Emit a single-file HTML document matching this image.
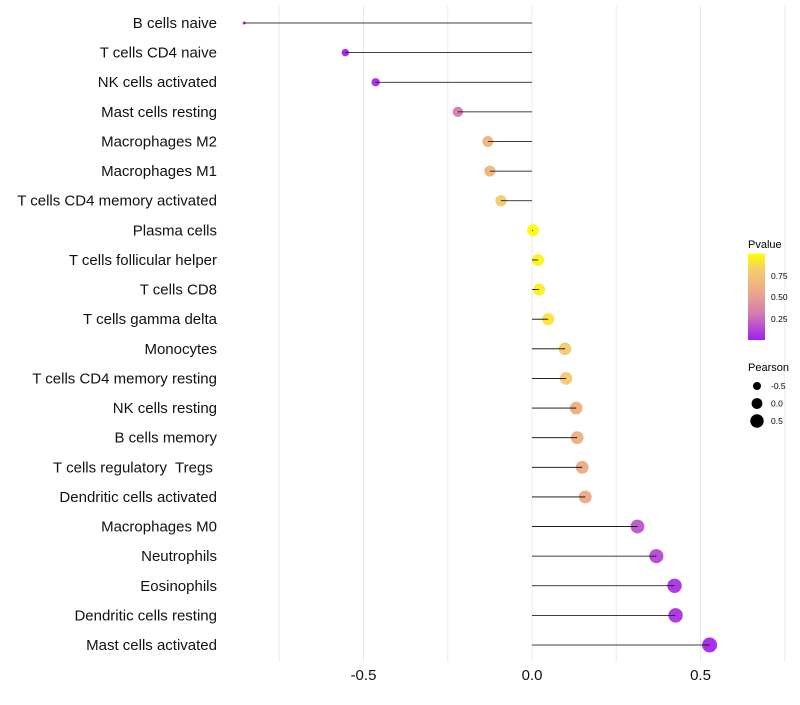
<!DOCTYPE html>
<html><head><meta charset="utf-8"><style>
body{margin:0;background:#fff;font-family:"Liberation Sans",sans-serif;}
</style></head><body>
<svg id="chart" width="800" height="700" xmlns="http://www.w3.org/2000/svg" font-family="Liberation Sans, sans-serif">
<defs><linearGradient id="pg" x1="0" y1="1" x2="0" y2="0">
<stop offset="0" stop-color="#A020F0"/><stop offset="0.3" stop-color="#D47AB0"/><stop offset="0.55" stop-color="#EBA88A"/><stop offset="0.8" stop-color="#F5C870"/><stop offset="1" stop-color="#FFFF00"/></linearGradient></defs>
<g id="grid"></g>
<g id="marks"></g>
<g id="ylabels"></g>
<g id="xlabels"></g>
<g>
<text x="748" y="248" font-size="11" fill="#000">Pvalue</text>
<rect x="748" y="253.5" width="17" height="86.5" fill="url(#pg)"/>
<text x="771" y="279" font-size="8.5">0.75</text>
<text x="771" y="300" font-size="8.5">0.50</text>
<text x="771" y="322" font-size="8.5">0.25</text>
</g>
<g>
<text x="748" y="371" font-size="11">Pearson</text>
<circle cx="757" cy="386" r="4" fill="#000"/>
<circle cx="757" cy="403.5" r="5.4" fill="#000"/>
<circle cx="757" cy="421" r="6.7" fill="#000"/>
<text x="771" y="389" font-size="8.5">-0.5</text>
<text x="771" y="406.5" font-size="8.5">0.0</text>
<text x="771" y="424" font-size="8.5">0.5</text>
</g>
</svg>
<script>
const categories=["B cells naive","T cells CD4 naive","NK cells activated","Mast cells resting","Macrophages M2","Macrophages M1","T cells CD4 memory activated","Plasma cells","T cells follicular helper","T cells CD8","T cells gamma delta","Monocytes","T cells CD4 memory resting","NK cells resting","B cells memory","T cells regulatory  Tregs ","Dendritic cells activated","Macrophages M0","Neutrophils","Eosinophils","Dendritic cells resting","Mast cells activated"];
const pearson=[-0.854,-0.554,-0.464,-0.220,-0.131,-0.125,-0.092,0.003,0.018,0.021,0.048,0.098,0.101,0.131,0.134,0.149,0.158,0.313,0.369,0.423,0.426,0.527];
const pvalue=[0.0,0.01,0.03,0.3,0.65,0.65,0.8,0.99,0.95,0.94,0.9,0.8,0.8,0.6,0.6,0.57,0.55,0.17,0.12,0.06,0.06,0.02];
const xTicks=[-0.5,0.0,0.5];
const xTickLabels=["-0.5","0.0","0.5"];
const NS="http://www.w3.org/2000/svg";
const x=v=>532+v*337;
const y=i=>23+i*29.62;
const stops=[[0,[160,32,240]],[0.3,[212,122,176]],[0.55,[235,168,138]],[0.65,[240,178,122]],[0.8,[245,200,112]],[1,[255,255,0]]];
function col(p){for(let k=1;k<stops.length;k++){if(p<=stops[k][0]){const a=stops[k-1],b=stops[k],t=(p-a[0])/(b[0]-a[0]);return "rgb("+a[1].map((c,j)=>Math.round(c+(b[1][j]-c)*t)).join(",")+")";}}return "rgb(255,255,0)";}
const rad=v=>Math.sqrt(Math.max(2.25,35.5+38.9*v));
function mk(tag,at,parent){const e=document.createElementNS(NS,tag);for(const k in at)e.setAttribute(k,at[k]);parent.appendChild(e);return e;}
const grid=document.getElementById("grid");
[-0.75,-0.5,-0.25,0,0.25,0.5,0.75].forEach(v=>{
 const l=mk("line",{x1:x(v),x2:x(v),y1:5,y2:662,stroke:"#ebebeb","stroke-width":1},grid);
 
 
});
const marks=document.getElementById("marks"),yl=document.getElementById("ylabels"),xl=document.getElementById("xlabels");
categories.forEach((c,i)=>{
 const pt=mk("circle",{cx:x(pearson[i]),cy:y(i),r:rad(pearson[i]),fill:col(pvalue[i]),"fill-opacity":0.95},marks);
 
 
 const ln=mk("line",{x1:x(0),x2:x(pearson[i]),y1:y(i),y2:y(i),stroke:"#000","stroke-width":0.8},marks);
 
 
 const t=mk("text",{x:217,y:y(i)+5,"text-anchor":"end","font-size":15,fill:"#111","xml:space":"preserve"},yl);
 t.style.whiteSpace="pre";
 t.textContent=c;
 
 
});
xTicks.forEach((v,i)=>{
 const t=mk("text",{x:x(v),y:680,"text-anchor":"middle","font-size":15,fill:"#111"},xl);
 t.textContent=xTickLabels[i];
 
 
});
</script>
</body></html>
